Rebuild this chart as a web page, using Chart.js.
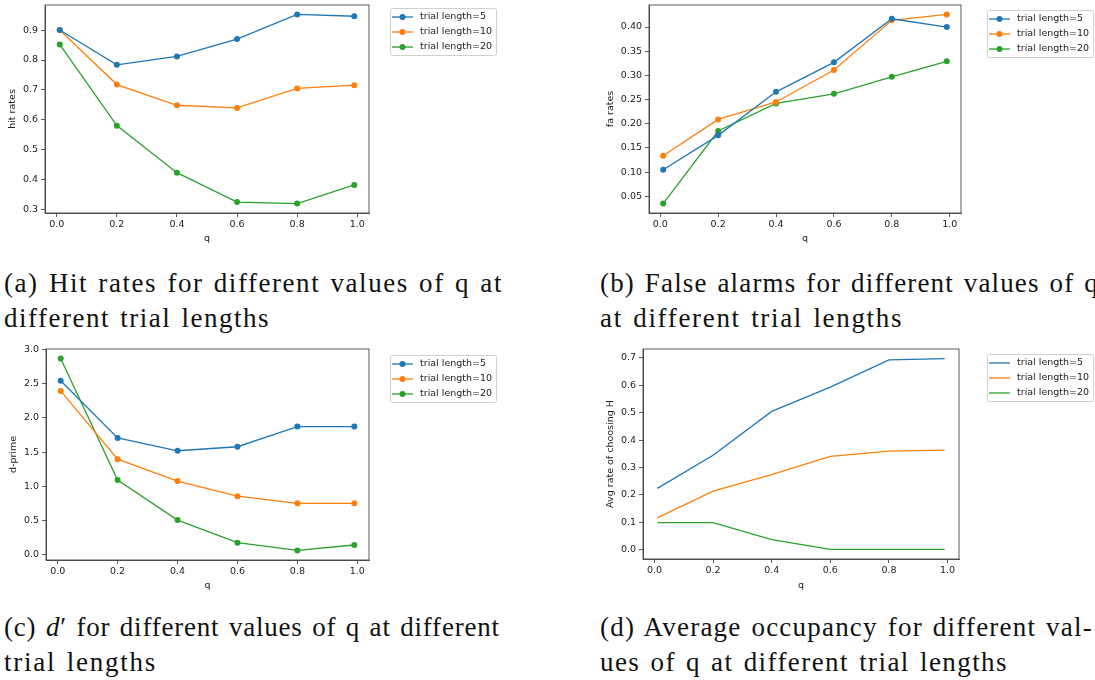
<!DOCTYPE html>
<html>
<head>
<meta charset="utf-8">
<script src="https://cdn.jsdelivr.net/npm/chart.js@4.4.0/dist/chart.umd.min.js"></script>
<style>
  body { margin: 0; background: #fff; width: 1095px; height: 680px; overflow: hidden; position: relative; }
  .panel { position: absolute; }
  .cap { position: absolute; font-family: "Liberation Serif", "Times New Roman", serif;
         font-size: 27px; line-height: 35px; color: #111; word-spacing: 2px; white-space: nowrap; }
  .cap span { display: inline-block; }
</style>
</head>
<body>
<div class="panel" style="left:0;top:0"><canvas id="hit" width="560" height="245"></canvas></div>
<div class="panel" style="left:590px;top:0"><canvas id="fa" width="505" height="245"></canvas></div>
<div class="panel" style="left:0;top:340px"><canvas id="dprime" width="560" height="252"></canvas></div>
<div class="panel" style="left:590px;top:340px"><canvas id="occ" width="505" height="252"></canvas></div>

<div class="cap" style="left:4px;top:266px"><span data-w="499">(a) Hit rates for different values of q at</span><br><span data-w="266">different trial lengths</span></div>
<div class="cap" style="left:600px;top:266px"><span data-w="499">(b) False alarms for different values of q</span><br><span data-w="303">at different trial lengths</span></div>
<div class="cap" style="left:4px;top:610px"><span data-w="496">(c) <i>d</i>′ for different values of q at different</span><br><span data-w="153">trial lengths</span></div>
<div class="cap" style="left:600px;top:610px"><span data-w="493">(d) Average occupancy for different val-</span><br><span data-w="408">ues of q at different trial lengths</span></div>

<script>
// q values on the x axis
const q = [0.01, 0.2, 0.4, 0.6, 0.8, 0.99];
const qTicks = [0, 0.2, 0.4, 0.6, 0.8, 1.0];
const seriesLabels = ['trial length=5', 'trial length=10', 'trial length=20'];
const colors = ['#1f77b4', '#ff7f0e', '#2ca02c'];

// (a) hit rates
const hit5  = [0.900, 0.784, 0.812, 0.870, 0.952, 0.946];
const hit10 = [0.900, 0.718, 0.649, 0.640, 0.705, 0.716];
const hit20 = [0.852, 0.581, 0.424, 0.326, 0.321, 0.383];
const hitTicks = [0.3, 0.4, 0.5, 0.6, 0.7, 0.8, 0.9];

// (b) false alarm rates
const fa5  = [0.105, 0.176, 0.266, 0.327, 0.417, 0.400];
const fa10 = [0.134, 0.209, 0.245, 0.311, 0.414, 0.426];
const fa20 = [0.035, 0.185, 0.242, 0.262, 0.297, 0.329];
const faTicks = [0.05, 0.10, 0.15, 0.20, 0.25, 0.30, 0.35, 0.40];

// (c) d-prime
const dp5  = [2.543, 1.707, 1.520, 1.579, 1.874, 1.874];
const dp10 = [2.395, 1.397, 1.077, 0.856, 0.752, 0.752];
const dp20 = [2.867, 1.092, 0.507, 0.177, 0.064, 0.143];
const dpTicks = [0.0, 0.5, 1.0, 1.5, 2.0, 2.5, 3.0];

// (d) average rate of choosing H
const occ5  = [0.224, 0.345, 0.505, 0.594, 0.693, 0.698];
const occ10 = [0.116, 0.214, 0.274, 0.341, 0.360, 0.364];
const occ20 = [0.099, 0.099, 0.037, 0.001, 0.001, 0.001];
const occTicks = [0.0, 0.1, 0.2, 0.3, 0.4, 0.5, 0.6, 0.7];

Chart.defaults.font.family = '"DejaVu Sans", sans-serif';
Chart.defaults.font.size = 9.5;
Chart.defaults.color = '#222';

// captions: spread each line to the width it has in the paper (LaTeX font is wider than Times)
document.querySelectorAll('.cap span').forEach(s => {
  const n = s.textContent.length;
  const ls = (+s.dataset.w - s.getBoundingClientRect().width) / n;
  s.style.letterSpacing = ls.toFixed(2) + 'px';
});

// matplotlib-style 5% margins
function span(vals) {
  const lo = Math.min(...vals), hi = Math.max(...vals), m = (hi - lo) * 0.05;
  return [lo - m, hi + m];
}

// spines on all four sides
const frame = {
  id: 'frame',
  afterDatasetsDraw(chart) {
    const a = chart.chartArea, ctx = chart.ctx;
    ctx.save();
    ctx.strokeStyle = '#333';
    ctx.lineWidth = 0.8;
    ctx.strokeRect(a.left, a.top, a.right - a.left, a.bottom - a.top);
    ctx.restore();
  }
};

// legend in a rounded box outside the axes
const boxLegend = {
  id: 'boxLegend',
  afterDraw(chart, args, opts) {
    const ctx = chart.ctx, sets = chart.data.datasets;
    ctx.save();
    ctx.font = '9.5px "DejaVu Sans"';
    const tw = Math.max(...sets.map(d => ctx.measureText(d.label).width));
    const x = opts.x, y = opts.y, w = 30 + tw + 4, h = 15 * sets.length + 2;
    ctx.fillStyle = 'rgba(255,255,255,0.8)';
    ctx.strokeStyle = '#d0d0d0';
    ctx.lineWidth = 1;
    ctx.beginPath();
    ctx.roundRect(x + 0.5, y + 0.5, w, h, 2);
    ctx.fill();
    ctx.stroke();
    sets.forEach((d, i) => {
      const cy = y + 9 + i * 15;
      ctx.strokeStyle = d.borderColor;
      ctx.lineWidth = 1.3;
      ctx.beginPath();
      ctx.moveTo(x + 2, cy);
      ctx.lineTo(x + 23, cy);
      ctx.stroke();
      if (opts.markers) {
        ctx.fillStyle = d.borderColor;
        ctx.beginPath();
        ctx.arc(x + 12.5, cy, 3, 0, Math.PI * 2);
        ctx.fill();
      }
      ctx.fillStyle = '#222';
      ctx.textBaseline = 'middle';
      ctx.fillText(d.label, x + 30, cy);
    });
    ctx.restore();
  }
};

function makeChart(id, c) {
  const [ymin, ymax] = span(c.series.flat());
  const [xmin, xmax] = span(q);
  new Chart(document.getElementById(id), {
    type: 'line',
    data: {
      datasets: c.series.map((vals, i) => ({
        label: seriesLabels[i],
        data: q.map((x, j) => ({ x: x, y: vals[j] })),
        borderColor: colors[i],
        backgroundColor: colors[i],
        borderWidth: 1.3,
        pointRadius: c.markers ? 3 : 0,
        pointBorderWidth: 0,
        pointBackgroundColor: colors[i],
        tension: 0
      }))
    },
    options: {
      responsive: false,
      animation: false,
      layout: { padding: { top: c.padTop, right: c.padRight, left: 0, bottom: 0 } },
      plugins: {
        legend: { display: false },
        tooltip: { enabled: false },
        boxLegend: { x: c.legendX, y: c.legendY, markers: c.markers }
      },
      scales: {
        x: {
          type: 'linear', min: xmin, max: xmax,
          afterBuildTicks: s => { s.ticks = qTicks.map(v => ({ value: v })); },
          afterFit: s => { s.height = c.xH; s.paddingLeft = 0; s.paddingRight = 0; },
          ticks: { callback: v => v.toFixed(1), padding: 2, maxRotation: 0 },
          grid: { drawOnChartArea: false, drawTicks: true, tickLength: 4, tickColor: '#333', tickWidth: 0.8 },
          border: { display: true, color: '#333', width: 0.8 },
          title: { display: true, text: 'q', padding: { top: 0, bottom: 1 } }
        },
        y: {
          type: 'linear', min: ymin, max: ymax,
          afterBuildTicks: s => { s.ticks = c.yTicks.map(v => ({ value: v })); },
          afterFit: s => { s.width = c.yW; s.paddingTop = 0; s.paddingBottom = 0; },
          ticks: { callback: v => v.toFixed(c.dec), padding: 3 },
          grid: { drawOnChartArea: false, drawTicks: true, tickLength: 4, tickColor: '#333', tickWidth: 0.8 },
          border: { display: true, color: '#333', width: 0.8 },
          title: { display: true, text: c.yTitle, padding: { top: c.titlePad, bottom: 0 } }
        }
      }
    },
    plugins: [frame, boxLegend]
  });
}

makeChart('hit', {
  series: [hit5, hit10, hit20], yTicks: hitTicks, dec: 1, yTitle: 'hit rates',
  yW: 45, xH: 32, padTop: 5, padRight: 191, titlePad: 7, legendX: 390, legendY: 8, markers: true
});
makeChart('fa', {
  series: [fa5, fa10, fa20], yTicks: faTicks, dec: 2, yTitle: 'fa rates',
  yW: 59, xH: 32, padTop: 5, padRight: 134, titlePad: 15, legendX: 397, legendY: 10, markers: true
});
makeChart('dprime', {
  series: [dp5, dp10, dp20], yTicks: dpTicks, dec: 1, yTitle: 'd-prime',
  yW: 46, xH: 32, padTop: 9, padRight: 191, titlePad: 8, legendX: 390, legendY: 15, markers: true
});
makeChart('occ', {
  series: [occ5, occ10, occ20], yTicks: occTicks, dec: 1, yTitle: 'Avg rate of choosing H',
  yW: 53, xH: 33, padTop: 9, padRight: 136, titlePad: 15, legendX: 397, legendY: 14, markers: false
});
</script>
</body>
</html>
